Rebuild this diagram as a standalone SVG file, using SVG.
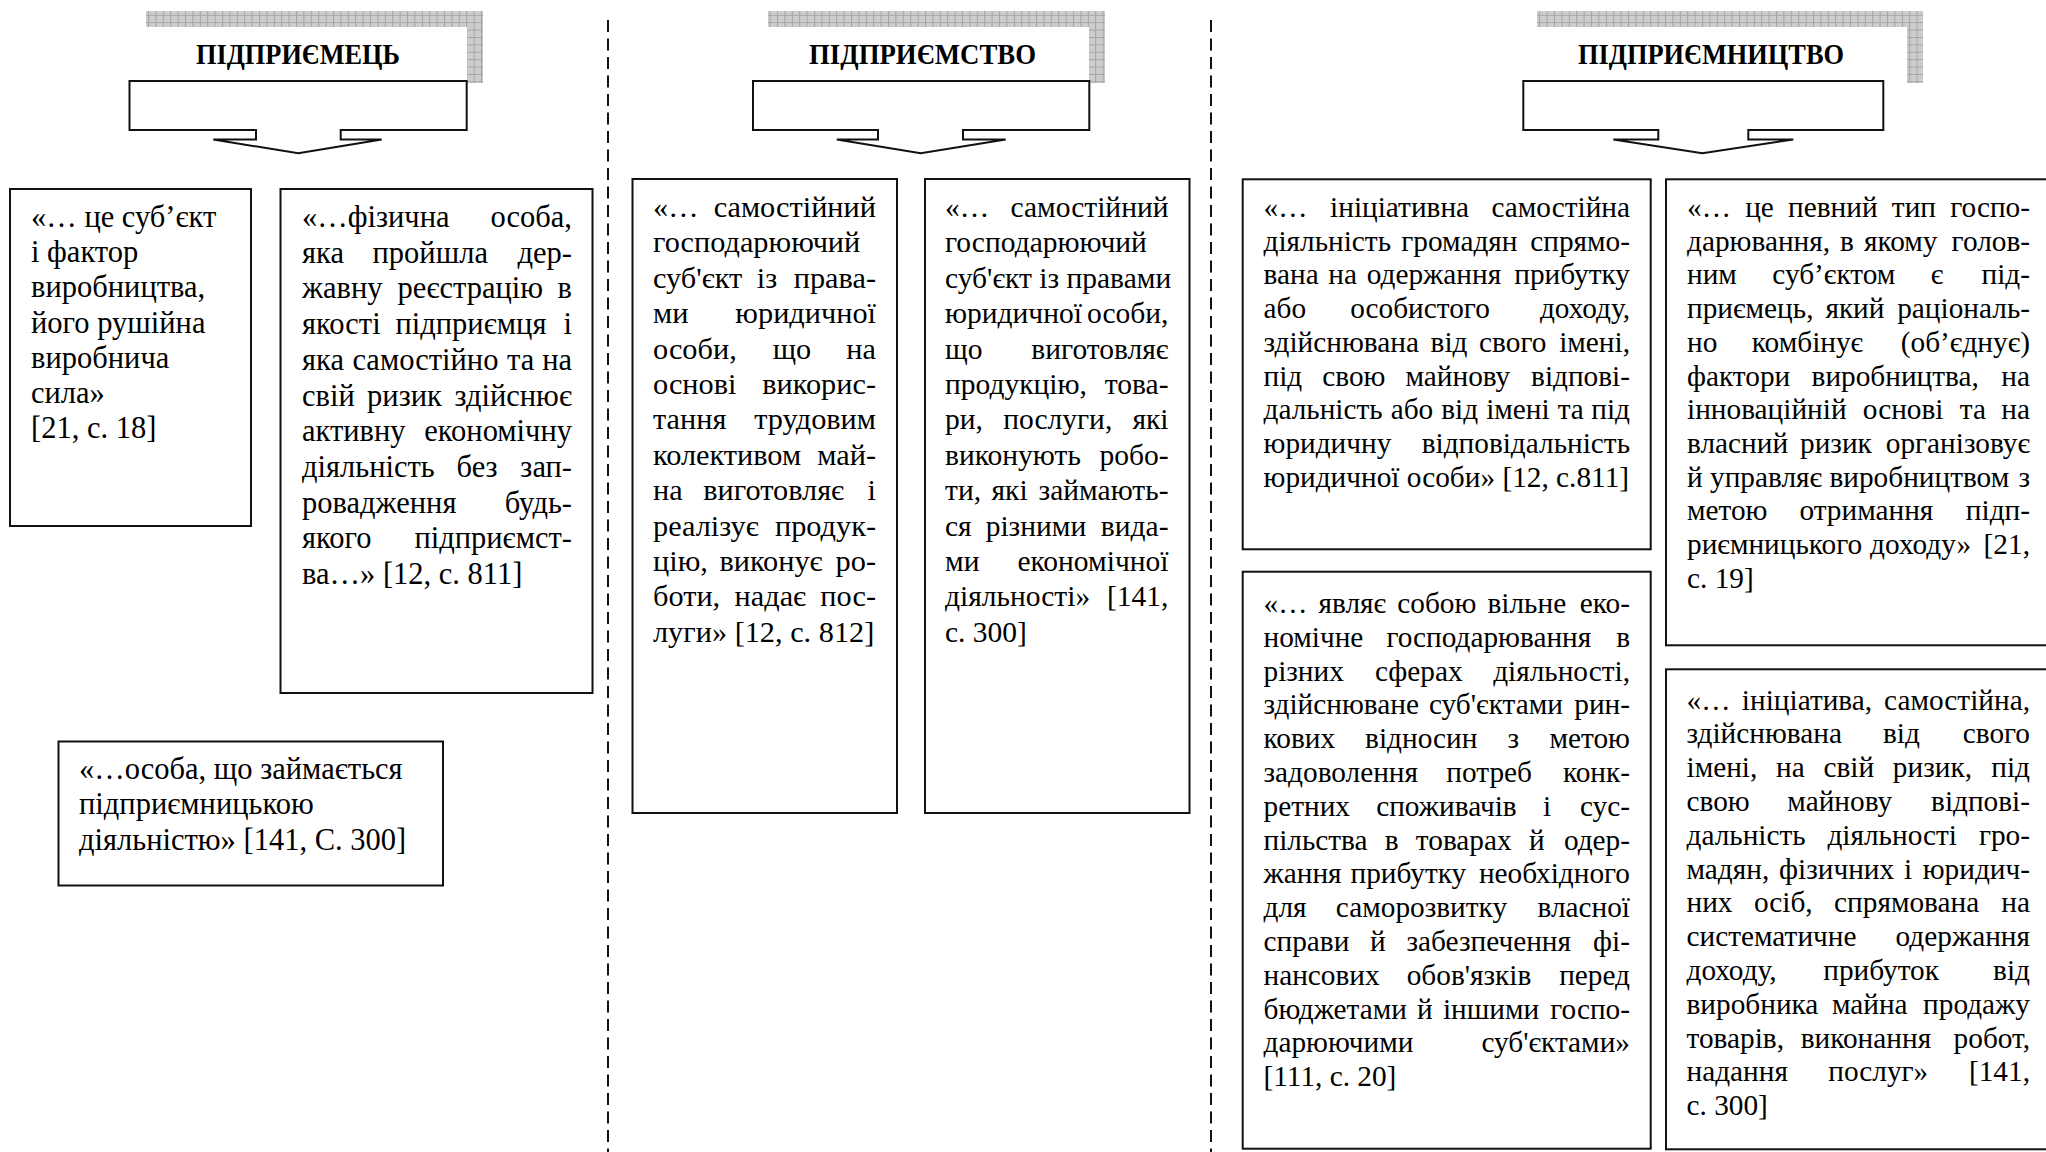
<svg xmlns="http://www.w3.org/2000/svg" width="2046" height="1152" viewBox="0 0 2046 1152">
<defs>
<pattern id="grid" width="7.4" height="7.4" patternUnits="userSpaceOnUse">
<rect width="7.4" height="7.4" fill="#cdcdcd"/>
<path d="M0,0.5H7.4M0.5,0V7.4" stroke="#a4a4a4" stroke-width="1"/>
</pattern>
</defs>
<style>
.box{fill:#fff;stroke:#111;stroke-width:2}
.call{fill:#fff;stroke:#111;stroke-width:2;stroke-linejoin:miter}
.sh{fill:url(#grid)}
.wh{fill:#fff}
.ttl{font-family:'Liberation Serif','Times New Roman',serif;font-weight:bold;font-size:30px;text-anchor:middle;fill:#000}
.t,.d,.t2,.r{font-family:'Liberation Serif','Times New Roman',serif;fill:#000}
.t{font-size:30.5px}
.d{font-size:30.3px}
.t2{font-size:29.5px}
.r{font-size:29.3px}
.e{text-anchor:end}
.dash{stroke:#111;stroke-width:2;stroke-dasharray:12 6.5;fill:none}
</style>
<rect width="2046" height="1152" fill="#fff"/>

<g id="dividers">
<line class="dash" x1="608" y1="20" x2="608" y2="1152"/>
<line class="dash" x1="1211" y1="20" x2="1211" y2="1152"/>
</g>

<g id="header-pidpryiemets">
<rect class="sh" x="146" y="11" width="337" height="72"/>
<rect class="wh" x="146" y="27" width="321" height="56"/>
<text class="ttl" x="298" y="63.5" textLength="204" lengthAdjust="spacingAndGlyphs">ПІДПРИЄМЕЦЬ</text>
</g>
<g id="header-pidpryiemstvo">
<rect class="sh" x="768" y="11" width="337" height="72"/>
<rect class="wh" x="768" y="27" width="321" height="56"/>
<text class="ttl" x="922.5" y="63.5" textLength="227" lengthAdjust="spacingAndGlyphs">ПІДПРИЄМСТВО</text>
</g>
<g id="header-pidpryiemnytstvo">
<rect class="sh" x="1537" y="11" width="386" height="72"/>
<rect class="wh" x="1537" y="27" width="370" height="56"/>
<text class="ttl" x="1711" y="63.5" textLength="266" lengthAdjust="spacingAndGlyphs">ПІДПРИЄМНИЦТВО</text>
</g>

<g id="connectors">
<path class="call" d="M129.5,81H466.7V130H340.7V139.5H381.7L298.3,153.3L213.3,139.5H256V130H129.5Z"/>
<path class="call" d="M753,81H1089.3V130H963V139.5H1005.7L920.7,153.3L836.8,139.5H878V130H753Z"/>
<path class="call" d="M1523.3,81H1883.3V130H1748.3V139.5H1793.3L1702.3,153.3L1613.3,139.5H1658.3V130H1523.3Z"/>
</g>

<g id="box-a">
<rect class="box" x="10" y="189" width="241" height="337"/>
<text class="t" x="31" y="227">«… це суб’єкт</text>
<text class="t" x="31" y="262.2">і фактор</text>
<text class="t" x="31" y="297.4">виробництва,</text>
<text class="t" x="31" y="332.6">його рушійна</text>
<text class="t" x="31" y="367.8">виробнича</text>
<text class="t" x="31" y="403">сила»</text>
<text class="t" x="31" y="438.2">[21, с. 18]</text>
</g>

<g id="box-b">
<rect class="box" x="280.5" y="189" width="312" height="504"/>
<text class="t" x="302" y="227">«…фізична</text><text class="t e" x="572" y="227">особа,</text>
<text class="t" x="302" y="262.7" word-spacing="21">яка пройшла</text><text class="t e" x="572" y="262.7">дер-</text>
<text class="t" x="302" y="298.4" word-spacing="7.4">жавну реєстрацію</text><text class="t e" x="572" y="298.4">в</text>
<text class="t" x="302" y="334.1" word-spacing="7.2">якості підприємця</text><text class="t e" x="572" y="334.1">і</text>
<text class="t" x="302" y="369.8" word-spacing="0.9">яка самостійно та</text><text class="t e" x="572" y="369.8">на</text>
<text class="t" x="302" y="405.5" word-spacing="4.7">свій ризик</text><text class="t e" x="572" y="405.5">здійснює</text>
<text class="t" x="302" y="441.2">активну</text><text class="t e" x="572" y="441.2">економічну</text>
<text class="t" x="302" y="476.9" word-spacing="14.2">діяльність без</text><text class="t e" x="572" y="476.9">зап-</text>
<text class="t" x="302" y="512.6">ровадження</text><text class="t e" x="572" y="512.6">будь-</text>
<text class="t" x="302" y="548.3">якого</text><text class="t e" x="572" y="548.3">підприємст-</text>
<text class="t" x="302" y="584">ва…» [12, с. 811]</text>
</g>

<g id="box-c">
<rect class="box" x="58.5" y="741.5" width="384.5" height="144"/>
<text class="t" x="79" y="779">«…особа, що займається</text>
<text class="t" x="79" y="814.3">підприємницькою</text>
<text class="t" x="79" y="849.6">діяльністю» [141, С. 300]</text>
</g>

<g id="box-d">
<rect class="box" x="632.5" y="179" width="264.5" height="634"/>
<text class="d" x="653" y="217">«…</text><text class="d e" x="876" y="217">самостійний</text>
<text class="d" x="653" y="252.4">господарюючий</text>
<text class="d" x="653" y="287.8" word-spacing="7">суб'єкт із</text><text class="d e" x="876" y="287.8">права-</text>
<text class="d" x="653" y="323.2">ми</text><text class="d e" x="876" y="323.2">юридичної</text>
<text class="d" x="653" y="358.6" word-spacing="28.4">особи, що</text><text class="d e" x="876" y="358.6">на</text>
<text class="d" x="653" y="394">основі</text><text class="d e" x="876" y="394">викорис-</text>
<text class="d" x="653" y="429.4">тання</text><text class="d e" x="876" y="429.4">трудовим</text>
<text class="d" x="653" y="464.8">колективом</text><text class="d e" x="876" y="464.8">май-</text>
<text class="d" x="653" y="500.2" word-spacing="13">на виготовляє</text><text class="d e" x="876" y="500.2">і</text>
<text class="d" x="653" y="535.6">реалізує</text><text class="d e" x="876" y="535.6">продук-</text>
<text class="d" x="653" y="571" word-spacing="4">цію, виконує</text><text class="d e" x="876" y="571">ро-</text>
<text class="d" x="653" y="606.4" word-spacing="6.8">боти, надає</text><text class="d e" x="876" y="606.4">пос-</text>
<text class="d" x="653" y="641.8">луги» [12, с. 812]</text>
</g>

<g id="box-e">
<rect class="box" x="925" y="179" width="264.5" height="634"/>
<text class="t2" x="945" y="217">«…</text><text class="t2 e" x="1168.5" y="217">самостійний</text>
<text class="t2" x="945" y="252.4">господарюючий</text>
<text class="t2" x="945" y="287.8">суб'єкт із правами</text>
<text class="t2" x="945" y="323.2">юридичної</text><text class="t2 e" x="1168.5" y="323.2">особи,</text>
<text class="t2" x="945" y="358.6">що</text><text class="t2 e" x="1168.5" y="358.6">виготовляє</text>
<text class="t2" x="945" y="394">продукцію,</text><text class="t2 e" x="1168.5" y="394">това-</text>
<text class="t2" x="945" y="429.4" word-spacing="12.9">ри, послуги,</text><text class="t2 e" x="1168.5" y="429.4">які</text>
<text class="t2" x="945" y="464.8">виконують</text><text class="t2 e" x="1168.5" y="464.8">робо-</text>
<text class="t2" x="945" y="500.2" word-spacing="3.1">ти, які</text><text class="t2 e" x="1168.5" y="500.2">займають-</text>
<text class="t2" x="945" y="535.6" word-spacing="6.6">ся різними</text><text class="t2 e" x="1168.5" y="535.6">вида-</text>
<text class="t2" x="945" y="571">ми</text><text class="t2 e" x="1168.5" y="571">економічної</text>
<text class="t2" x="945" y="606.4">діяльності»</text><text class="t2 e" x="1168.5" y="606.4">[141,</text>
<text class="t2" x="945" y="641.8">с. 300]</text>
</g>

<g id="box-f">
<rect class="box" x="1242.7" y="179.3" width="408" height="370"/>
<text class="r" x="1263.5" y="217" word-spacing="15.3">«… ініціативна</text><text class="r e" x="1630" y="217">самостійна</text>
<text class="r" x="1263.5" y="250.7" word-spacing="3">діяльність громадян</text><text class="r e" x="1630" y="250.7">спрямо-</text>
<text class="r" x="1263.5" y="284.4" word-spacing="2.4">вана на одержання</text><text class="r e" x="1630" y="284.4">прибутку</text>
<text class="r" x="1263.5" y="318.1" word-spacing="36.8">або особистого</text><text class="r e" x="1630" y="318.1">доходу,</text>
<text class="r" x="1263.5" y="351.8" word-spacing="4.3">здійснювана від свого</text><text class="r e" x="1630" y="351.8">імені,</text>
<text class="r" x="1263.5" y="385.5" word-spacing="12.7">під свою майнову</text><text class="r e" x="1630" y="385.5">відпові-</text>
<text class="r" x="1263.5" y="419.2" word-spacing="0.7">дальність або від імені та</text><text class="r e" x="1630" y="419.2">під</text>
<text class="r" x="1263.5" y="452.9">юридичну</text><text class="r e" x="1630" y="452.9">відповідальність</text>
<text class="r" x="1263.5" y="486.6">юридичної особи» [12, с.811]</text>
</g>

<g id="box-g">
<rect class="box" x="1242.7" y="571.7" width="408" height="577"/>
<text class="r" x="1263.5" y="613" word-spacing="3.8">«… являє собою вільне</text><text class="r e" x="1630" y="613">еко-</text>
<text class="r" x="1263.5" y="646.8" word-spacing="15.7">номічне господарювання</text><text class="r e" x="1630" y="646.8">в</text>
<text class="r" x="1263.5" y="680.6" word-spacing="23.8">різних сферах</text><text class="r e" x="1630" y="680.6">діяльності,</text>
<text class="r" x="1263.5" y="714.4" word-spacing="2.7">здійснюване суб'єктами</text><text class="r e" x="1630" y="714.4">рин-</text>
<text class="r" x="1263.5" y="748.2" word-spacing="22.7">кових відносин з</text><text class="r e" x="1630" y="748.2">метою</text>
<text class="r" x="1263.5" y="782" word-spacing="21">задоволення потреб</text><text class="r e" x="1630" y="782">конк-</text>
<text class="r" x="1263.5" y="815.8" word-spacing="18.9">ретних споживачів і</text><text class="r e" x="1630" y="815.8">сус-</text>
<text class="r" x="1263.5" y="849.6" word-spacing="9.9">пільства в товарах й</text><text class="r e" x="1630" y="849.6">одер-</text>
<text class="r" x="1263.5" y="883.4" word-spacing="1.6">жання прибутку</text><text class="r e" x="1630" y="883.4">необхідного</text>
<text class="r" x="1263.5" y="917.2" word-spacing="22">для саморозвитку</text><text class="r e" x="1630" y="917.2">власної</text>
<text class="r" x="1263.5" y="951" word-spacing="13.4">справи й забезпечення</text><text class="r e" x="1630" y="951">фі-</text>
<text class="r" x="1263.5" y="984.8" word-spacing="19.7">нансових обов'язків</text><text class="r e" x="1630" y="984.8">перед</text>
<text class="r" x="1263.5" y="1018.6" word-spacing="2.8">бюджетами й іншими</text><text class="r e" x="1630" y="1018.6">госпо-</text>
<text class="r" x="1263.5" y="1052.4">дарюючими</text><text class="r e" x="1630" y="1052.4">суб'єктами»</text>
<text class="r" x="1263.5" y="1086.2">[111, с. 20]</text>
</g>

<g id="box-h">
<rect class="box" x="1666" y="179.3" width="392" height="466"/>
<text class="r" x="1687" y="217" word-spacing="6.9">«… це певний тип</text><text class="r e" x="2030" y="217">госпо-</text>
<text class="r" x="1687" y="250.7" word-spacing="2.7">дарювання, в якому</text><text class="r e" x="2030" y="250.7">голов-</text>
<text class="r" x="1687" y="284.4" word-spacing="28.1">ним суб’єктом є</text><text class="r e" x="2030" y="284.4">під-</text>
<text class="r" x="1687" y="318.1" word-spacing="4.6">приємець, який</text><text class="r e" x="2030" y="318.1">раціональ-</text>
<text class="r" x="1687" y="351.8" word-spacing="27.2">но комбінує</text><text class="r e" x="2030" y="351.8">(об’єднує)</text>
<text class="r" x="1687" y="385.5" word-spacing="14">фактори виробництва,</text><text class="r e" x="2030" y="385.5">на</text>
<text class="r" x="1687" y="419.2" word-spacing="8.9">інноваційній основі та</text><text class="r e" x="2030" y="419.2">на</text>
<text class="r" x="1687" y="452.9" word-spacing="4.6">власний ризик</text><text class="r e" x="2030" y="452.9">організовує</text>
<text class="r" x="1687" y="486.6">й управляє виробництвом</text><text class="r e" x="2030" y="486.6">з</text>
<text class="r" x="1687" y="520.3" word-spacing="24.6">метою отримання</text><text class="r e" x="2030" y="520.3">підп-</text>
<text class="r" x="1687" y="554" word-spacing="0.6">риємницького доходу»</text><text class="r e" x="2030" y="554">[21,</text>
<text class="r" x="1687" y="587.7">с. 19]</text>
</g>

<g id="box-i">
<rect class="box" x="1666" y="669.3" width="392" height="480"/>
<text class="r" x="1686.5" y="709.5" word-spacing="4.1">«… ініціатива,</text><text class="r e" x="2030" y="709.5">самостійна,</text>
<text class="r" x="1686.5" y="743.3" word-spacing="33.7">здійснювана від</text><text class="r e" x="2030" y="743.3">свого</text>
<text class="r" x="1686.5" y="777.1" word-spacing="11.4">імені, на свій ризик,</text><text class="r e" x="2030" y="777.1">під</text>
<text class="r" x="1686.5" y="810.9" word-spacing="30.3">свою майнову</text><text class="r e" x="2030" y="810.9">відпові-</text>
<text class="r" x="1686.5" y="844.7" word-spacing="14.5">дальність діяльності</text><text class="r e" x="2030" y="844.7">гро-</text>
<text class="r" x="1686.5" y="878.5" word-spacing="2.5">мадян, фізичних і</text><text class="r e" x="2030" y="878.5">юридич-</text>
<text class="r" x="1686.5" y="912.3" word-spacing="14.1">них осіб, спрямована</text><text class="r e" x="2030" y="912.3">на</text>
<text class="r" x="1686.5" y="946.1">систематичне</text><text class="r e" x="2030" y="946.1">одержання</text>
<text class="r" x="1686.5" y="979.9" word-spacing="39.3">доходу, прибуток</text><text class="r e" x="2030" y="979.9">від</text>
<text class="r" x="1686.5" y="1013.7" word-spacing="6.2">виробника майна</text><text class="r e" x="2030" y="1013.7">продажу</text>
<text class="r" x="1686.5" y="1047.5" word-spacing="9.4">товарів, виконання</text><text class="r e" x="2030" y="1047.5">робот,</text>
<text class="r" x="1686.5" y="1081.3" word-spacing="33">надання послуг»</text><text class="r e" x="2030" y="1081.3">[141,</text>
<text class="r" x="1686.5" y="1115.1">с. 300]</text>
</g>
</svg>
